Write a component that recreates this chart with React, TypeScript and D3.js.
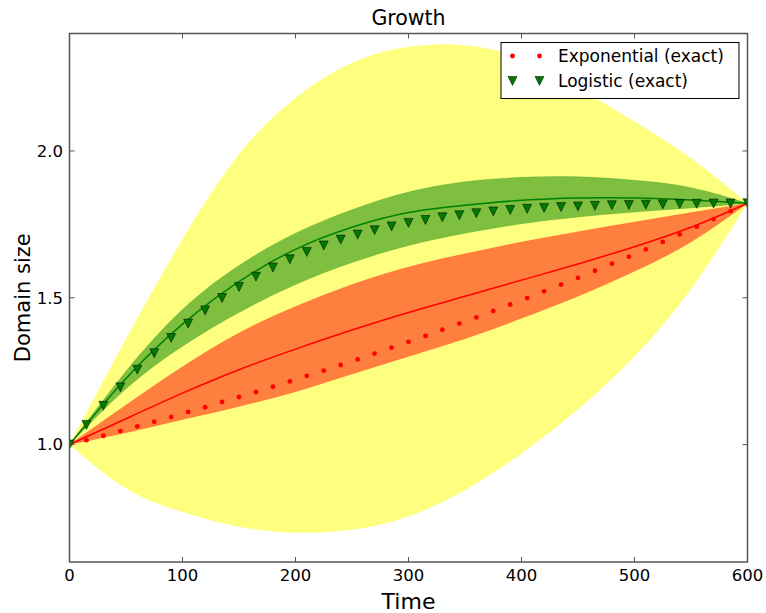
import React from "react";
import * as d3 from "d3";

// Band sample times
const bandTimes = [0, 50, 100, 150, 200, 250, 300, 350, 400, 450, 500, 550, 600];
const yellowUpper = [1.0, 1.36, 1.7, 1.99, 2.18, 2.3, 2.355, 2.36, 2.315, 2.215, 2.1, 1.975, 1.822];
const yellowLower = [1.0, 0.85, 0.77, 0.72, 0.7, 0.71, 0.755, 0.845, 0.97, 1.12, 1.3, 1.53, 1.822];
const orangeUpper = [1.0, 1.135, 1.265, 1.38, 1.47, 1.545, 1.605, 1.65, 1.69, 1.725, 1.758, 1.79, 1.822];
const orangeLower = [1.0, 1.04, 1.085, 1.13, 1.18, 1.24, 1.3, 1.36, 1.43, 1.505, 1.59, 1.69, 1.822];
const redMean = [1.0, 1.088, 1.175, 1.255, 1.325, 1.39, 1.45, 1.505, 1.56, 1.615, 1.674, 1.74, 1.822];
const greenUpper = [1.0, 1.25, 1.46, 1.61, 1.72, 1.8, 1.86, 1.895, 1.91, 1.912, 1.9, 1.875, 1.822];
const greenLower = [1.0, 1.19, 1.335, 1.45, 1.545, 1.62, 1.678, 1.72, 1.752, 1.775, 1.792, 1.806, 1.822];
const greenMean = [1.0, 1.225, 1.41, 1.555, 1.665, 1.74, 1.79, 1.815, 1.832, 1.84, 1.84, 1.833, 1.822];

// Exact solutions, sampled every 15 time units
const markerTimes = [0, 15, 30, 45, 60, 75, 90, 105, 120, 135, 150, 165, 180, 195, 210, 225, 240, 255, 270, 285, 300, 315, 330, 345, 360, 375, 390, 405, 420, 435, 450, 465, 480, 495, 510, 525, 540, 555, 570, 585, 600];
const exponentialExact = [1.0, 1.015, 1.03, 1.046, 1.062, 1.078, 1.094, 1.111, 1.127, 1.145, 1.162, 1.179, 1.197, 1.215, 1.234, 1.252, 1.271, 1.29, 1.31, 1.33, 1.35, 1.37, 1.391, 1.412, 1.433, 1.455, 1.477, 1.499, 1.522, 1.545, 1.568, 1.592, 1.616, 1.64, 1.665, 1.69, 1.716, 1.742, 1.768, 1.795, 1.822];
const logisticExact = [1.0, 1.067, 1.132, 1.195, 1.255, 1.311, 1.363, 1.412, 1.457, 1.499, 1.537, 1.572, 1.603, 1.631, 1.656, 1.678, 1.698, 1.715, 1.73, 1.743, 1.755, 1.765, 1.774, 1.781, 1.788, 1.794, 1.799, 1.803, 1.806, 1.809, 1.811, 1.813, 1.815, 1.816, 1.817, 1.818, 1.819, 1.82, 1.821, 1.821, 1.822];

const xTicks = [0, 100, 200, 300, 400, 500, 600];
const yTicks = [1.0, 1.5, 2.0];
const legendLabels = ["Exponential (exact)", "Logistic (exact)"];

const W = 766;
const H = 613;
const L = 69.5, R = 747.5, T = 33.5, B = 562;
const FONT = "DejaVu Sans, sans-serif";

export default function App() {
  const x = d3.scaleLinear().domain([0, 600]).range([L, R]);
  const y = d3.scaleLinear().domain([0.6, 2.4]).range([B, T]);

  const band = (up: number[], lo: number[]) =>
    d3
      .area<number>()
      .x((_, i) => x(bandTimes[i]))
      .y0((_, i) => y(lo[i]))
      .y1((_, i) => y(up[i]))
      .curve(d3.curveNatural)(up) as string;

  const line = (vals: number[]) =>
    d3
      .line<number>()
      .x((_, i) => x(bandTimes[i]))
      .y((v) => y(v))
      .curve(d3.curveNatural)(vals) as string;

  const tri = "M-4.5,-4.5L4.5,-4.5L0,4.5Z";

  return (
    <svg
      width={W}
      height={H}
      style={{ position: "absolute", left: 0, top: 0, background: "#fff" }}
      fontFamily={FONT}
    >
      <defs>
        <clipPath id="plot">
          <rect x={L} y={T} width={R - L} height={B - T} />
        </clipPath>
      </defs>
      <g clipPath="url(#plot)">
        <path d={band(yellowUpper, yellowLower)} fill="yellow" fillOpacity={0.5} />
        <path d={band(orangeUpper, orangeLower)} fill="red" fillOpacity={0.5} stroke="red" strokeOpacity={0.15} />
        <path d={band(greenUpper, greenLower)} fill="green" fillOpacity={0.5} stroke="green" strokeOpacity={0.2} />
        <path d={line(redMean)} fill="none" stroke="red" strokeWidth={1.5} />
        <path d={line(greenMean)} fill="none" stroke="green" strokeWidth={1.5} />
        {markerTimes.map((t, i) => (
          <circle key={"e" + i} cx={x(t)} cy={y(exponentialExact[i])} r={2.4} fill="red" />
        ))}
        {markerTimes.map((t, i) => (
          <path
            key={"l" + i}
            d={tri}
            transform={`translate(${x(t)},${y(logisticExact[i])})`}
            fill="#007a00"
            stroke="#000"
            strokeWidth={0.5}
          />
        ))}
      </g>

      {/* frame */}
      <rect x={L} y={T} width={R - L} height={B - T} fill="none" stroke="#555" strokeWidth={1.5} />

      {/* x ticks */}
      {xTicks.map((t) => (
        <g key={"xt" + t}>
          <line x1={x(t)} x2={x(t)} y1={B} y2={B - 5} stroke="#555" strokeWidth={1} />
          <line x1={x(t)} x2={x(t)} y1={T} y2={T + 5} stroke="#555" strokeWidth={1} />
          <text x={x(t)} y={581} textAnchor="middle" fontSize={16.5} fill="#000">
            {t}
          </text>
        </g>
      ))}
      {/* y ticks */}
      {yTicks.map((v) => (
        <g key={"yt" + v}>
          <line x1={L} x2={L + 5} y1={y(v)} y2={y(v)} stroke="#555" strokeWidth={1} />
          <line x1={R} x2={R - 5} y1={y(v)} y2={y(v)} stroke="#555" strokeWidth={1} />
          <text x={63} y={y(v)} dy="0.35em" textAnchor="end" fontSize={16.5} fill="#000">
            {v.toFixed(1)}
          </text>
        </g>
      ))}

      <text x={(L + R) / 2} y={25} textAnchor="middle" fontSize={20.5} fill="#000">
        Growth
      </text>
      <text x={(L + R) / 2} y={609} textAnchor="middle" fontSize={22} fill="#000">
        Time
      </text>
      <text
        transform={`translate(30,${(T + B) / 2}) rotate(-90)`}
        textAnchor="middle"
        fontSize={21}
        fill="#000"
      >
        Domain size
      </text>

      {/* legend */}
      <g>
        <rect x={501} y={42.5} width={238} height={56} fill="#fff" stroke="#000" strokeWidth={1} />
        <circle cx={512.5} cy={56} r={2.4} fill="red" />
        <circle cx={539.5} cy={56} r={2.4} fill="red" />
        <path d={tri} transform="translate(512.5,81)" fill="#007a00" stroke="#000" strokeWidth={0.5} />
        <path d={tri} transform="translate(539.5,81)" fill="#007a00" stroke="#000" strokeWidth={0.5} />
        <text x={558} y={62} fontSize={17} fill="#000">
          {legendLabels[0]}
        </text>
        <text x={558} y={87} fontSize={17} fill="#000">
          {legendLabels[1]}
        </text>
      </g>
    </svg>
  );
}
